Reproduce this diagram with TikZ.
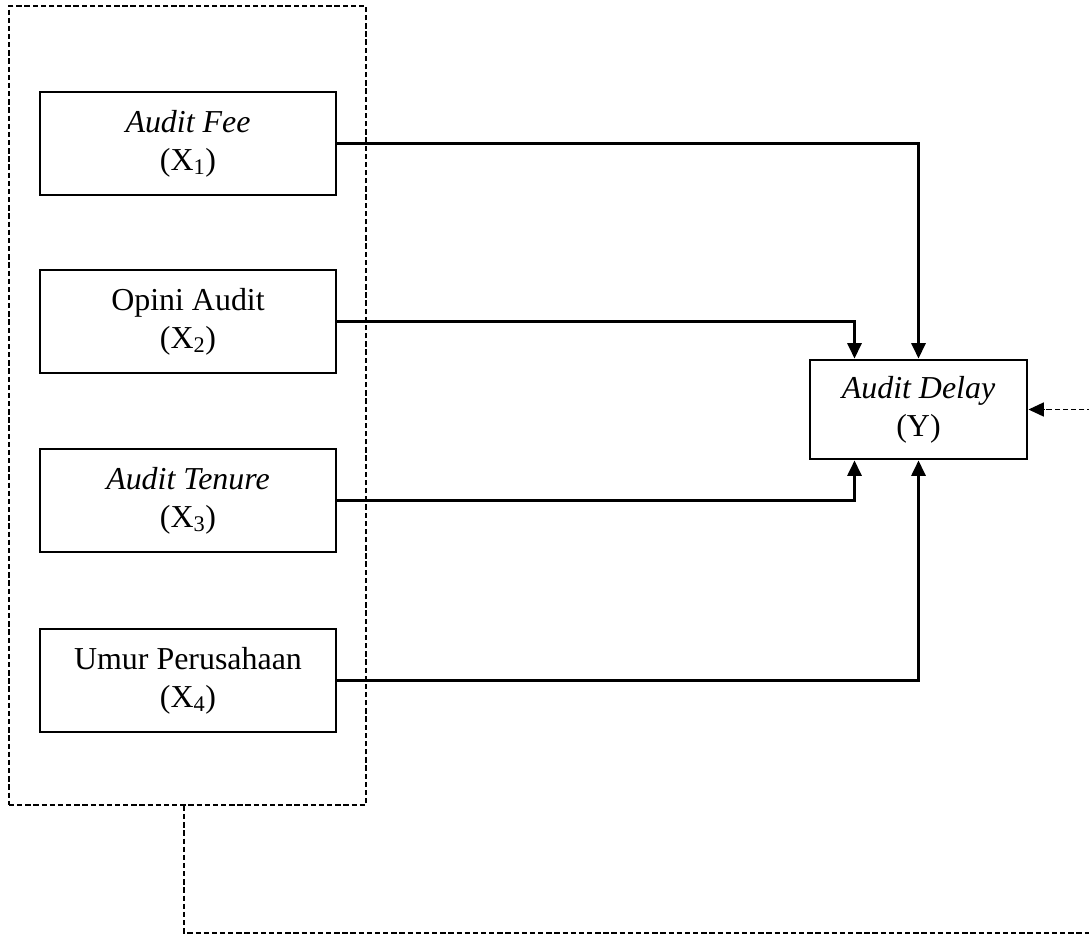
\documentclass[tikz,border=0pt]{standalone}
\usepackage{fontspec}
\setmainfont{Liberation Serif}
\usetikzlibrary{arrows.meta,calc}
\begin{document}
\begin{tikzpicture}[x=0.025cm,y=-0.025cm,
  varbox/.style={draw,line width=2pt,minimum width=7.4cm,minimum height=2.575cm,align=center,inner sep=0pt,
    font=\fontsize{22.7}{27}\selectfont},
  ybox/.style={draw,line width=2pt,minimum width=5.425cm,minimum height=2.475cm,align=center,inner sep=0pt,
    font=\fontsize{22.7}{27}\selectfont},
  grpbox/.style={draw,line width=1.1pt,dash pattern=on 3.8pt off 2pt,minimum width=8.925cm,minimum height=19.975cm,inner sep=0pt},
  conn/.style={line width=2pt,-{Triangle[length=11pt,width=10pt]}},
  dconn/.style={line width=1.1pt,dash pattern=on 3.8pt off 2pt,-{Triangle[length=11pt,width=10pt]}}]
\useasboundingbox (0,0) rectangle (1089,935);
\clip (0,0) rectangle (1089,935);
\node[grpbox] (grp) at (187.5,405.5) {};
\node[varbox] (x1) at (188,143.5) {\textit{Audit Fee}\\(X\textsubscript{1})};
\node[varbox] (x2) at (188,321.5) {Opini Audit\\(X\textsubscript{2})};
\node[varbox] (x3) at (188,500.5) {\textit{Audit Tenure}\\(X\textsubscript{3})};
\node[varbox] (x4) at (188,680.5) {Umur Perusahaan\\(X\textsubscript{4})};
\node[ybox] (y) at (918.5,409.5) {\textit{Audit Delay}\\(Y)};
\coordinate (ytl) at ($(y.north)+(-64,0)$);
\coordinate (ybl) at ($(y.south)+(-64,0)$);
\draw[conn] (x1.east) -| (y.north);
\draw[conn] (x2.east) -| (ytl);
\draw[conn] (x3.east) -| (ybl);
\draw[conn] (x4.east) -| (y.south);
\coordinate (dl) at (184,933);
\coordinate (dr) at (1100,933);
\draw[dconn] (grp.south -| dl) -- (dl) -- (dr) |- (y.east);
\end{tikzpicture}
\end{document}
